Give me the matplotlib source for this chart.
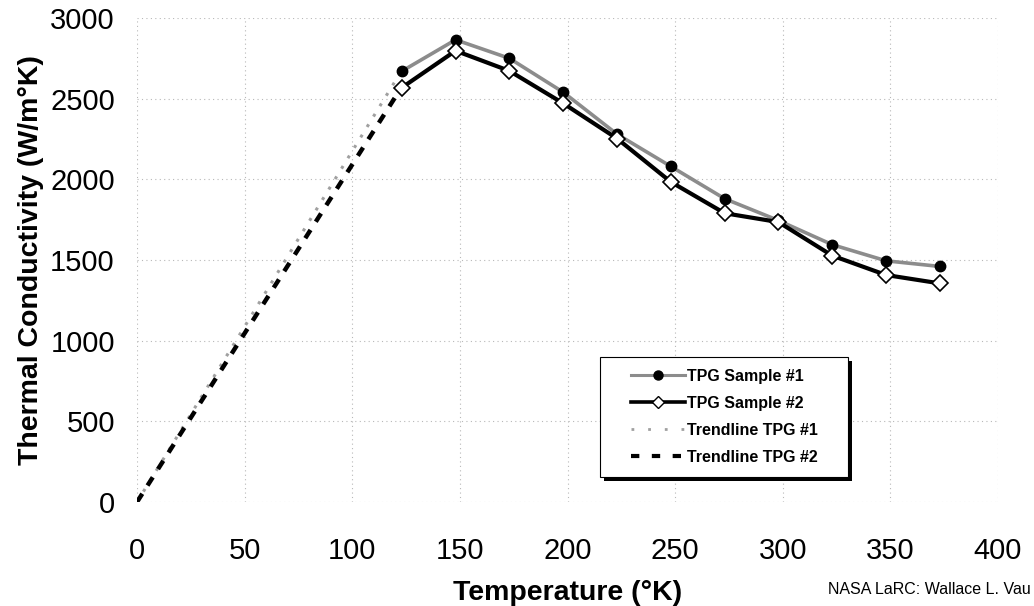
import matplotlib
matplotlib.use("Agg")
import matplotlib.pyplot as plt
from matplotlib.patches import Rectangle
from matplotlib.lines import Line2D

plt.rcParams['font.family'] = ['Liberation Sans', 'DejaVu Sans']

# measured temperatures (K) and conductivity (W/m K)
temps = [123, 148, 173, 198, 223, 248, 273, 298, 323, 348, 373]
sample1 = [2670, 2865, 2750, 2540, 2280, 2080, 1880, 1745, 1595, 1495, 1460]
sample2 = [2568, 2797, 2672, 2471, 2253, 1984, 1790, 1735, 1527, 1407, 1355]

# linear trendlines below the first measurement
trend_t = [0, 120]
trend1 = [0, 2610]
trend2 = [0, 2510]

xticks = [0, 50, 100, 150, 200, 250, 300, 350, 400]
yticks = [0, 500, 1000, 1500, 2000, 2500, 3000]

fig = plt.figure(figsize=(10.34, 6.06), dpi=100)
ax = fig.add_axes([0.1325, 0.1716, 0.8327, 0.7987])

ax.plot(trend_t, trend1, color='#a0a0a0', lw=2.2, linestyle=(0, (1, 3)), zorder=2)
ax.plot(trend_t, trend2, color='black', lw=3.2, linestyle=(0, (2.2, 2.2)), zorder=2)
ax.plot(temps, sample1, color='#8c8c8c', lw=2.6, marker='o', ms=7.5,
        mfc='black', mec='black', zorder=3)
ax.plot(temps, sample2, color='black', lw=3.0, marker='D', ms=8,
        mfc='white', mec='black', mew=1.2, zorder=4)

ax.set_xlim(0, 400)
ax.set_ylim(0, 3000)
ax.set_xticks(xticks)
ax.set_yticks(yticks)
for s in ax.spines.values():
    s.set_visible(False)
ax.grid(True, color='#b8b8b8', linestyle=(0, (1, 3)), lw=0.8)
ax.set_axisbelow(True)
ax.tick_params(axis='both', length=0, labelsize=21)
ax.tick_params(axis='x', pad=25)
ax.tick_params(axis='y', pad=16)

ax.set_xlabel('Temperature (°K)', fontsize=20.5, fontweight='bold', labelpad=11)
ax.set_ylabel('Thermal Conductivity (W/m°K)', fontsize=20.5, fontweight='bold', labelpad=4)

# legend box with black drop shadow
bx, by, bw, bh = 0.538, 0.0517, 0.288, 0.248
ax.add_patch(Rectangle((bx + 0.0047, by - 0.0085), bw, bh, transform=ax.transAxes,
                       facecolor='black', edgecolor='none', zorder=6))
ax.add_patch(Rectangle((bx, by), bw, bh, transform=ax.transAxes,
                       facecolor='white', edgecolor='black', lw=0.8, zorder=7))

handles = [
    Line2D([], [], color='#8c8c8c', lw=2.2, marker='o', ms=6.5, mfc='black', mec='black'),
    Line2D([], [], color='black', lw=2.6, marker='D', ms=6.5, mfc='white', mec='black', mew=1),
    Line2D([], [], color='#a0a0a0', lw=2.0, linestyle=(0, (1, 5))),
    Line2D([], [], color='black', lw=3.0, linestyle=(0, (2, 3))),
]
labels = ['TPG Sample #1', 'TPG Sample #2', 'Trendline TPG #1', 'Trendline TPG #2']
leg = ax.legend(handles, labels, loc='center', bbox_to_anchor=(bx + bw / 2, by + bh / 2),
                frameon=False, prop={'weight': 'bold', 'size': 11.5},
                handlelength=3.4, handletextpad=0.1, labelspacing=0.75)
leg.set_zorder(8)

fig.text(1031 / 1034, 1 - 590 / 606, 'NASA LaRC: Wallace L. Vau', fontsize=11.5,
         ha='right', va='center')

fig.savefig('out.png', dpi=100)
